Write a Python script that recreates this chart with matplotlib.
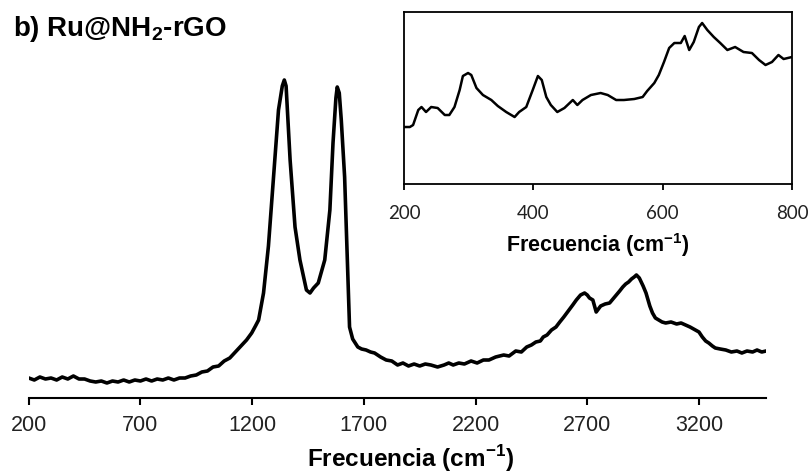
import matplotlib
matplotlib.use("Agg")
import matplotlib.pyplot as plt

plt.rcParams['font.family'] = ['Liberation Sans', 'DejaVu Sans']
plt.rcParams['mathtext.fontset'] = 'custom'
plt.rcParams['mathtext.rm'] = 'Liberation Sans:bold'
plt.rcParams['mathtext.bf'] = 'Liberation Sans:bold'

# Raman spectrum, full range (intensity in arbitrary units)
freq = [200, 225, 250, 275, 300, 325, 350, 375, 400, 425, 450, 475, 500, 525, 550,
        575, 600, 625, 650, 675, 700, 725, 750, 775, 800, 825, 850, 875, 900, 925,
        950, 975, 1000, 1025, 1050, 1075, 1100, 1125, 1150, 1175, 1198, 1215, 1229,
        1251, 1273, 1296, 1318, 1335, 1344, 1352, 1370, 1392, 1414, 1443, 1459, 1475,
        1496, 1525, 1548, 1562, 1575, 1581, 1590, 1599, 1614, 1626, 1636, 1650, 1673,
        1690, 1710, 1730, 1748, 1775, 1800, 1825, 1851, 1875, 1900, 1925, 1950, 1975,
        2000, 2030, 2059, 2080, 2100, 2125, 2150, 2180, 2207, 2235, 2260, 2290, 2326,
        2350, 2380, 2405, 2429, 2450, 2470, 2490, 2503, 2520, 2540, 2560, 2577, 2595,
        2615, 2635, 2651, 2670, 2688, 2700, 2710, 2725, 2740, 2760, 2780, 2800, 2815,
        2830, 2845, 2859, 2872, 2885, 2898, 2910, 2920, 2933, 2950, 2963, 2980, 2992,
        3005, 3020, 3035, 3051, 3075, 3100, 3120, 3140, 3160, 3184, 3200, 3215, 3230,
        3244, 3260, 3273, 3295, 3320, 3345, 3370, 3392, 3415, 3440, 3460, 3481, 3500]
intensity = [20, 18, 21, 19, 20, 18, 21, 19, 22, 19, 19, 17, 16, 17, 15,
             17, 16, 18, 16, 18, 17, 19, 17, 19, 18, 20, 18, 20, 20, 22,
             23, 26, 27, 31, 32, 37, 40, 46, 52, 58, 65, 72, 78,
             105, 152, 221, 288, 312, 318, 312, 238, 171, 138, 108, 105, 110,
             115, 138, 188, 255, 300, 311, 305, 278, 221, 138, 71, 59, 51,
             49, 48, 46, 45, 41, 38, 37, 33, 35, 32, 34, 32, 34,
             33, 31, 33, 35, 33, 35, 34, 37, 35, 38, 38, 41, 43,
             42, 47, 46, 51, 53, 56, 57, 61, 63, 68, 71, 76, 81,
             87, 93, 98, 103, 105, 103, 100, 98, 86, 92, 94, 95, 99,
             103, 107, 111, 114, 116, 119, 121, 123, 120, 112, 105, 92, 85,
             80, 78, 76, 75, 76, 74, 75, 73, 71, 68, 66, 61, 57,
             55, 52, 50, 49, 48, 46, 47, 45, 47, 46, 48, 46, 47]

# Inset: low-frequency detail
freq_in = [200, 209, 214, 222, 227, 234, 242, 252, 263, 270, 278, 286, 291, 299, 304,
           312, 322, 335, 345, 358, 371, 378, 389, 399, 407, 413, 420, 427, 437, 448,
           461, 468, 476, 489, 504, 515, 528, 540, 556, 569, 576, 587, 594, 602, 610,
           618, 628, 634, 641, 648, 656, 661, 669, 679, 689, 700, 712, 725, 738, 749,
           759, 769, 779, 787, 800]
intensity_in = [57, 57, 59, 74, 77, 72, 77, 76, 69, 69, 77, 94, 108, 111, 109,
                96, 89, 84, 78, 72, 67, 72, 77, 94, 108, 104, 87, 79, 72, 76,
                84, 79, 84, 89, 91, 89, 84, 84, 85, 87, 93, 101, 109, 122, 136,
                141, 141, 148, 134, 142, 157, 161, 154, 147, 141, 134, 137, 132, 131, 124,
                119, 122, 129, 125, 127]

fig = plt.figure(figsize=(8.11, 4.75), dpi=100)

ax = fig.add_axes([0.0354, 0.1621, 0.9091, 0.7116])
ax.plot(freq, intensity, color='black', lw=2.6)
ax.set_xlim(200, 3500)
ax.set_ylim(0, 338)
ax.set_xticks([200, 700, 1200, 1700, 2200, 2700, 3200])
ax.set_yticks([])
for s in ['top', 'right', 'left']:
    ax.spines[s].set_visible(False)
ax.spines['bottom'].set_linewidth(1.5)
ax.tick_params(axis='x', direction='out', length=5, width=1.5, labelsize=15.5, pad=7,
               colors='black', labelcolor='#222222')
ax.patch.set_alpha(0)

ins = fig.add_axes([0.4982, 0.6126, 0.4784, 0.3615])
ins.plot(freq_in, intensity_in, color='black', lw=1.8)
ins.set_xlim(200, 800)
ins.set_ylim(0, 171.7)
ins.set_xticks([200, 400, 600, 800])
ins.set_yticks([])
for s in ins.spines.values():
    s.set_linewidth(1.3)
ins.tick_params(axis='x', direction='out', length=4, width=1.3, pad=11)
for lab in ins.get_xticklabels():
    lab.set_fontfamily(['Lato', 'DejaVu Sans'])
    lab.set_fontsize(13.5)
    lab.set_color('#222222')

fig.text(13 / 811, 1 - 36 / 475, r'b) Ru@NH$_2$-rGO', fontsize=20, fontweight='bold',
         va='baseline', ha='left')
fig.text(411 / 811, 8 / 475, r'Frecuencia (cm$^{-1}$)', fontsize=17.5, fontweight='bold',
         va='baseline', ha='center')
fig.text(598 / 811, (475 - 251.7) / 475, r'Frecuencia (cm$^{-1}$)', fontsize=15.5,
         fontweight='bold', va='baseline', ha='center')

fig.savefig('out.png', dpi=100)
